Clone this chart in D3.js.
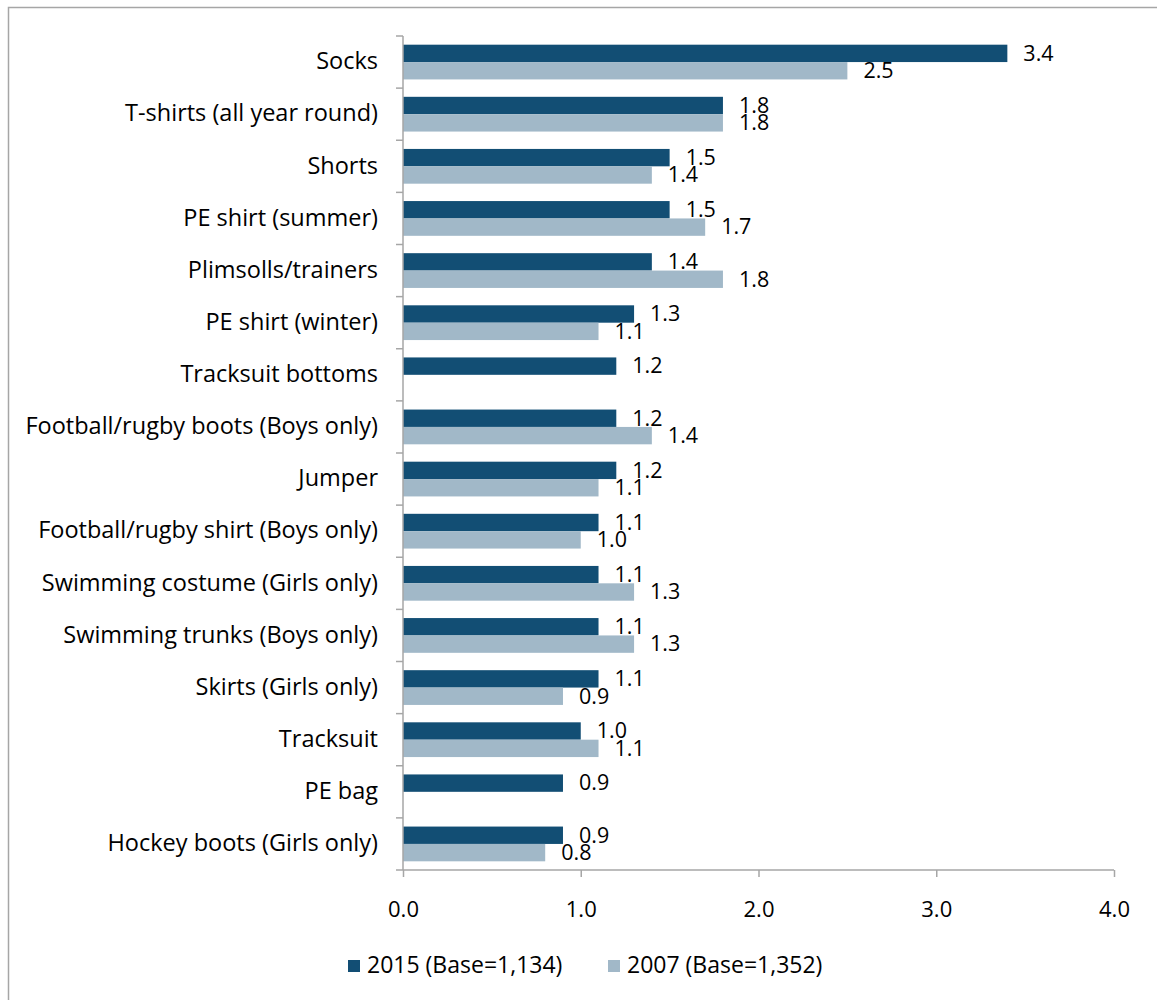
<!DOCTYPE html>
<html><head><meta charset="utf-8">
<script src="https://cdn.jsdelivr.net/npm/d3@7"></script>
<style>body{margin:0;background:#fff;} svg{display:block;} text{font-family:"Open Sans", sans-serif;fill:#000;}</style>
</head><body><svg id="c" width="1157" height="1000"></svg>
<script>
const categories = ["Socks","T-shirts (all year round)","Shorts","PE shirt (summer)","Plimsolls/trainers","PE shirt (winter)","Tracksuit bottoms","Football/rugby boots (Boys only)","Jumper","Football/rugby shirt (Boys only)","Swimming costume (Girls only)","Swimming trunks (Boys only)","Skirts (Girls only)","Tracksuit","PE bag","Hockey boots (Girls only)"];
const values2015 = [3.4,1.8,1.5,1.5,1.4,1.3,1.2,1.2,1.2,1.1,1.1,1.1,1.1,1.0,0.9,0.9];
const values2007 = [2.5,1.8,1.4,1.7,1.8,1.1,null,1.4,1.1,1.0,1.3,1.3,0.9,1.1,null,0.8];
const seriesNames = ["2015 (Base=1,134)","2007 (Base=1,352)"];
const xTicks = [0,1,2,3,4];

const colors = ["#124e74","#a1b8c8"];
const svg = d3.select("#c");
svg.append("rect").attr("x",8.5).attr("y",7.5).attr("width",1170).attr("height",1010)
  .attr("fill","none").attr("stroke","#a6a6a6").attr("stroke-width",1.5);

const L=403, R=1114, T=36, B=870;
const x = d3.scaleLinear().domain([0,4]).range([L,R]);
const y = d3.scaleBand().domain(categories).range([T,B]).paddingInner(1/3).paddingOuter(1/6);
const sub = d3.scaleBand().domain([0,1]).range([0,y.bandwidth()]);

const data = categories.map((c,i)=>({c, v:[values2015[i], values2007[i]]}));

const g = svg.append("g");
data.forEach(d=>{
  d.v.forEach((v,s)=>{
    if(v==null) return;
    g.append("rect").attr("x",x(0)).attr("y",y(d.c)+sub(s)).attr("width",x(v)-x(0)).attr("height",sub.bandwidth())
      .attr("fill",colors[s]);
    g.append("text").attr("x",x(v)+16).attr("y",y(d.c)+sub(s)+sub.bandwidth()/2+1.5).attr("dominant-baseline","middle")
      .attr("font-size",21.5).text(d3.format(".1f")(v));
  });
});

// y axis
const yAxis = svg.append("g");
yAxis.append("line").attr("x1",L).attr("x2",L).attr("y1",T).attr("y2",B).attr("stroke","#a6a6a6").attr("stroke-width",1.5);
const step = (B-T)/categories.length;
d3.range(categories.length+1).forEach(i=>{
  yAxis.append("line").attr("x1",L-7).attr("x2",L).attr("y1",T+i*step).attr("y2",T+i*step).attr("stroke","#a6a6a6").attr("stroke-width",1.5);
});
categories.forEach(c=>{
  yAxis.append("text").attr("x",378).attr("y",y(c)+y.bandwidth()/2+1).attr("text-anchor","end").attr("dominant-baseline","middle")
    .attr("font-size",23.5).text(c);
});

// x axis
const xa = svg.append("g").attr("transform",`translate(0,${B})`)
  .call(d3.axisBottom(x).tickValues(xTicks).tickFormat(d3.format(".1f")).tickSize(7).tickPadding(24));
xa.select(".domain").attr("stroke","#a6a6a6").attr("stroke-width",1.5).attr("d",`M${L},0H${R}`);
xa.selectAll(".tick line").attr("stroke","#a6a6a6").attr("stroke-width",1.5);
xa.selectAll(".tick text").attr("font-size",22).attr("font-family","'Open Sans', sans-serif").attr("fill","#000");

// legend
const legX = [348,608];
seriesNames.forEach((n,i)=>{
  svg.append("rect").attr("x",legX[i]).attr("y",960).attr("width",12).attr("height",12).attr("fill",colors[i]);
  svg.append("text").attr("x",legX[i]+19).attr("y",967).attr("dominant-baseline","middle").attr("font-size",23).text(n);
});
</script></body></html>
